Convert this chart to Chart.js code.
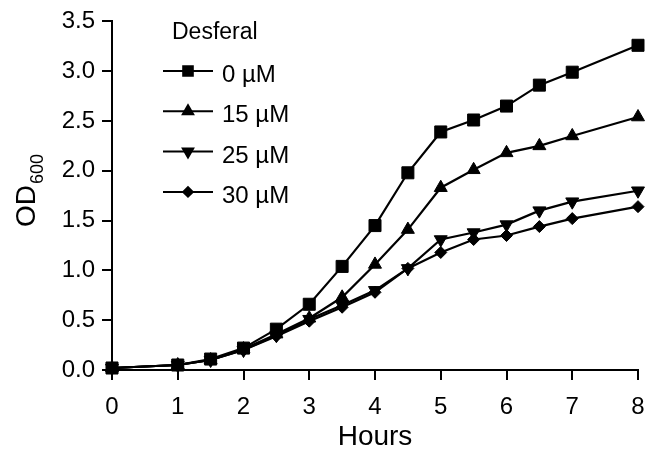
<!DOCTYPE html>
<html>
<head>
<meta charset="utf-8">
<script src="https://cdn.jsdelivr.net/npm/chart.js@4.4.1/dist/chart.umd.min.js"></script>
<style>
  html, body { margin: 0; padding: 0; background: #fff; }
  #wrap { width: 658px; height: 460px; }
</style>
</head>
<body>
<div id="wrap"><canvas id="growthChart" width="658" height="460"></canvas></div>
<script>
const FONT = "'Liberation Sans', Arial, sans-serif";

// Sampling times (hours)
const hours = [0, 1, 1.5, 2, 2.5, 3, 3.5, 4, 4.5, 5, 5.5, 6, 6.5, 7, 8];

// OD600 readings per Desferal concentration
const od0uM  = [0.02, 0.05, 0.11, 0.22, 0.41, 0.66, 1.04, 1.45, 1.98, 2.39, 2.51, 2.65, 2.86, 2.99, 3.26];
const od15uM = [0.02, 0.05, 0.10, 0.21, 0.36, 0.52, 0.73, 1.06, 1.41, 1.83, 2.01, 2.18, 2.25, 2.35, 2.54];
const od25uM = [0.02, 0.05, 0.10, 0.20, 0.35, 0.51, 0.65, 0.80, 1.02, 1.31, 1.38, 1.46, 1.60, 1.69, 1.80];
const od30uM = [0.02, 0.05, 0.10, 0.20, 0.34, 0.49, 0.63, 0.78, 1.02, 1.18, 1.31, 1.35, 1.44, 1.52, 1.64];

const seriesLabels = ['0 µM', '15 µM', '25 µM', '30 µM'];
const legendTitle = 'Desferal';
const xTitle = 'Hours';

const toPoints = vals => hours.map((h, i) => ({ x: h, y: vals[i] }));

function makeSet(label, vals, style, radius, rotation) {
  return {
    label,
    data: toPoints(vals),
    borderColor: '#000',
    backgroundColor: '#000',
    borderWidth: 2.2,
    pointStyle: style,
    pointRadius: radius,
    pointHoverRadius: radius,
    pointRotation: rotation || 0,
    pointBorderWidth: 1,
    pointBackgroundColor: '#000',
    pointBorderColor: '#000',
    tension: 0,
    clip: false,
  };
}

// Legend block inside the plot, with title and line+marker samples
const insideLegend = {
  id: 'insideLegend',
  afterDatasetsDraw(chart) {
    const ctx = chart.ctx;
    ctx.save();
    ctx.fillStyle = '#000';
    ctx.textBaseline = 'alphabetic';
    ctx.textAlign = 'left';
    ctx.font = '23px ' + FONT;
    ctx.fillText(legendTitle, 172, 39);
    ctx.font = '24px ' + FONT;
    chart.data.datasets.forEach((ds, i) => {
      const y = 71 + i * 40.3;
      ctx.strokeStyle = '#000';
      ctx.lineWidth = 2;
      ctx.beginPath();
      ctx.moveTo(163, y);
      ctx.lineTo(213, y);
      ctx.stroke();
      ctx.fillStyle = '#000';
      Chart.helpers.drawPoint(ctx, {
        pointStyle: ds.pointStyle,
        rotation: ds.pointRotation,
        radius: ds.pointRadius * 0.8,
        borderWidth: 1,
      }, 188, y);
      ctx.fill();
      ctx.fillText(ds.label, 222, y + 11);
    });
    ctx.restore();
  },
};

// Y axis title with subscript
const yTitle = {
  id: 'yTitle',
  afterDraw(chart) {
    const ctx = chart.ctx;
    ctx.save();
    ctx.fillStyle = '#000';
    ctx.translate(35, 227);
    ctx.rotate(-Math.PI / 2);
    ctx.textBaseline = 'alphabetic';
    ctx.textAlign = 'left';
    ctx.font = '28px ' + FONT;
    ctx.fillText('OD', 0, 0);
    const w = ctx.measureText('OD').width;
    ctx.font = '18px ' + FONT;
    ctx.fillText('600', w + 1, 8);
    ctx.restore();
  },
};

new Chart(document.getElementById('growthChart').getContext('2d'), {
  type: 'line',
  data: {
    datasets: [
      makeSet(seriesLabels[0], od0uM, 'rect', 8.5),
      makeSet(seriesLabels[1], od15uM, 'triangle', 7.5),
      makeSet(seriesLabels[2], od25uM, 'triangle', 7.5, 180),
      makeSet(seriesLabels[3], od30uM, 'rectRot', 6),
    ],
  },
  options: {
    responsive: false,
    animation: false,
    layout: { padding: { top: 20, right: 20, left: 0, bottom: 0 } },
    plugins: {
      legend: { display: false },
      tooltip: { enabled: false },
    },
    scales: {
      x: {
        type: 'linear',
        min: 0,
        max: 8,
        afterFit: s => { s.height = 90; },
        ticks: { stepSize: 1, color: '#000', font: { family: FONT, size: 24 }, padding: 13, maxRotation: 0 },
        grid: { display: true, drawOnChartArea: false, drawTicks: true, tickLength: 10, color: '#000', lineWidth: 2 },
        border: { display: true, color: '#000', width: 2 },
        title: { display: true, text: xTitle, color: '#000', font: { family: FONT, size: 28 }, padding: { top: 0, bottom: 6 } },
      },
      y: {
        min: 0,
        max: 3.5,
        afterFit: s => { s.width = 112; },
        ticks: { stepSize: 0.5, color: '#000', font: { family: FONT, size: 24 }, padding: 7, callback: v => v.toFixed(1) },
        grid: { display: true, drawOnChartArea: false, drawTicks: true, tickLength: 10, color: '#000', lineWidth: 2 },
        border: { display: true, color: '#000', width: 2 },
      },
    },
  },
  plugins: [insideLegend, yTitle],
});
</script>
</body>
</html>
